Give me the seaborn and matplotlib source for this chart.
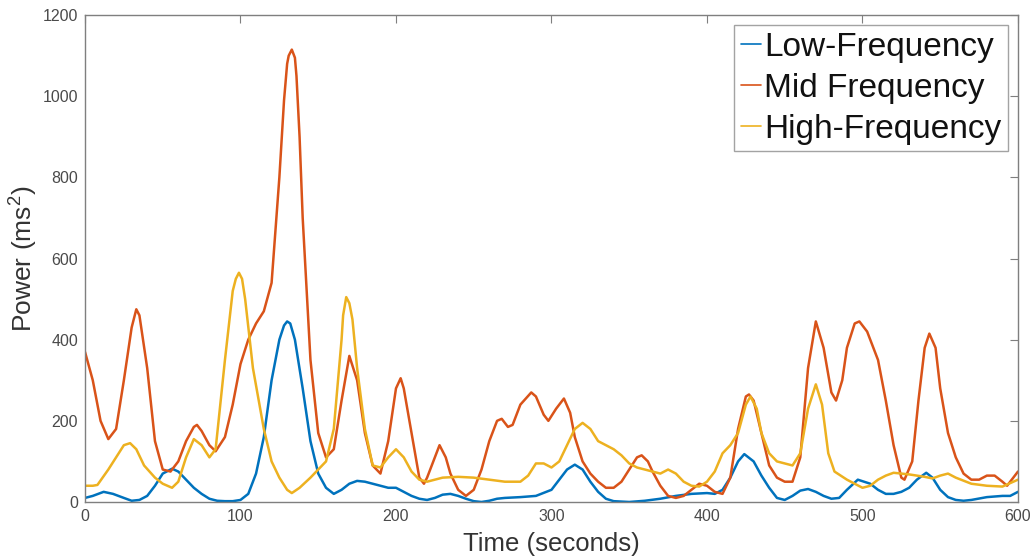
import numpy as np
import pandas as pd
import matplotlib
matplotlib.use("Agg")
import matplotlib.pyplot as plt
import seaborn as sns

# Low-frequency band power over time
low_t = [0, 5, 12, 18, 25, 30, 35, 40, 45, 50, 56, 60, 65, 70, 75, 80, 85, 90, 95, 100,
         105, 110, 115, 120, 125, 128, 130, 132, 135, 140, 145, 150, 155, 160, 165, 170, 175, 180,
         185, 190, 195, 200, 205, 210, 215, 220, 225, 230, 235, 240, 245, 250, 255, 260,
         265, 270, 280, 290, 300, 305, 310, 315, 320, 325, 330, 335, 340, 350, 360, 370,
         380, 390, 400, 405, 410, 415, 420, 424, 430, 435, 440, 445, 450, 455, 460, 465,
         470, 475, 480, 485, 490, 497, 505, 510, 515, 520, 525, 530, 535, 541, 545, 550,
         555, 560, 565, 570, 580, 590, 595, 600]
low_p = [10, 15, 25, 20, 10, 3, 5, 15, 40, 70, 82, 75, 55, 35, 20, 8, 3, 2, 2, 5,
         20, 70, 160, 300, 400, 435, 445, 440, 400, 280, 150, 70, 35, 20, 30, 45, 52, 50,
         45, 40, 35, 35, 25, 15, 8, 5, 10, 18, 20, 15, 8, 2, 0, 3,
         8, 10, 12, 15, 30, 55, 80, 92, 80, 50, 25, 8, 2, 0, 3, 8,
         15, 20, 22, 20, 30, 60, 100, 118, 100, 65, 35, 10, 5, 15, 28, 32,
         25, 15, 8, 10, 30, 55, 45, 30, 20, 20, 25, 35, 55, 72, 60, 30,
         12, 5, 3, 5, 12, 15, 15, 25]

# Mid-frequency band power over time
mid_t = [0, 5, 10, 15, 20, 25, 30, 33, 35, 40, 45, 50, 55, 60, 65, 70, 72, 75, 80, 84,
         90, 95, 100, 105, 110, 115, 120, 125, 128, 130, 131, 133, 135, 136, 138, 140, 145, 150, 155, 160,
         165, 170, 175, 180, 185, 190, 195, 200, 203, 205, 210, 215, 218, 220, 225, 228,
         232, 235, 240, 245, 250, 255, 260, 265, 268, 272, 275, 280, 287, 290, 295, 298,
         303, 308, 312, 315, 320, 325, 330, 335, 340, 345, 350, 355, 358, 362, 365, 370,
         375, 380, 385, 390, 395, 400, 405, 410, 415, 420, 425, 427, 430, 435, 440, 445,
         450, 455, 460, 465, 470, 475, 480, 483, 487, 490, 495, 498, 503, 510, 515, 520,
         525, 527, 532, 536, 540, 543, 547, 550, 555, 560, 565, 570, 575, 580, 585, 590,
         593, 597, 600]
mid_p = [370, 300, 200, 155, 180, 300, 430, 475, 460, 330, 150, 80, 75, 100, 150, 185, 190, 175, 140, 125,
         160, 240, 340, 400, 440, 470, 540, 800, 990, 1080, 1100, 1115, 1095, 1050, 900, 700, 350, 170, 110, 130,
         250, 360, 300, 170, 90, 70, 150, 280, 305, 280, 170, 60, 45, 60, 110, 140,
         110, 70, 30, 15, 30, 80, 150, 200, 205, 185, 190, 240, 270, 260, 215, 200,
         230, 255, 220, 160, 100, 70, 50, 35, 35, 50, 80, 110, 115, 100, 75, 40,
         15, 10, 15, 30, 45, 40, 25, 20, 60, 180, 260, 265, 250, 170, 90, 60,
         50, 50, 110, 330, 445, 380, 270, 250, 300, 380, 440, 445, 420, 350, 250, 140,
         60, 55, 100, 250, 380, 415, 380, 280, 170, 110, 70, 55, 55, 65, 65, 50,
         40, 60, 75]

# High-frequency band power over time
high_t = [0, 5, 8, 15, 20, 25, 29, 33, 38, 45, 50, 56, 60, 65, 70, 75, 80, 84, 90, 95,
          97, 99, 101, 103, 108, 115, 120, 125, 130, 133, 138, 145, 150, 155, 160, 165, 166, 168, 170, 172,
          175, 180, 185, 190, 195, 200, 205, 210, 215, 220, 225, 230, 240, 250, 260, 270,
          280, 285, 290, 295, 300, 305, 310, 315, 320, 325, 330, 335, 340, 345, 350, 355,
          360, 365, 370, 375, 380, 385, 390, 395, 400, 405, 410, 415, 420, 425, 428, 432,
          435, 440, 445, 450, 455, 460, 465, 470, 474, 478, 482, 490, 495, 500, 505, 510,
          515, 520, 525, 530, 535, 540, 545, 550, 555, 560, 570, 580, 590, 600]
high_p = [40, 40, 42, 80, 110, 140, 145, 130, 90, 60, 45, 35, 50, 110, 155, 140, 110, 130, 350, 520,
          550, 565, 550, 500, 330, 180, 100, 60, 30, 22, 35, 60, 80, 100, 180, 400, 460, 505, 490, 450,
          330, 180, 90, 85, 110, 130, 110, 75, 55, 50, 55, 60, 62, 60, 55, 50,
          50, 65, 95, 95, 85, 100, 140, 180, 195, 180, 150, 140, 130, 115, 95, 85,
          80, 75, 70, 80, 70, 50, 40, 38, 50, 75, 120, 140, 170, 240, 260, 230,
          170, 120, 100, 95, 90, 120, 230, 290, 240, 120, 75, 55, 45, 35, 40, 55,
          65, 72, 70, 68, 65, 62, 58, 65, 70, 60, 45, 40, 38, 55]

series_names = ["Low-Frequency", "Mid Frequency", "High-Frequency"]
series_colors = ["#0072BD", "#D95319", "#EDB120"]

df = pd.concat([
    pd.DataFrame({"Time": low_t, "Power": low_p, "Band": series_names[0]}),
    pd.DataFrame({"Time": mid_t, "Power": mid_p, "Band": series_names[1]}),
    pd.DataFrame({"Time": high_t, "Power": high_p, "Band": series_names[2]}),
], ignore_index=True)

sns.set_theme(style="white")
plt.rcParams["font.family"] = ["Liberation Sans", "DejaVu Sans"]
plt.rcParams["mathtext.fontset"] = "custom"
plt.rcParams["mathtext.rm"] = "Liberation Sans"
plt.rcParams["mathtext.it"] = "Liberation Sans"

fig = plt.figure(figsize=(10.34, 5.6), dpi=100)
ax = fig.add_axes([0.0822, 0.1036, 0.9023, 0.8694])

sns.lineplot(data=df, x="Time", y="Power", hue="Band", hue_order=series_names,
             palette=series_colors, linewidth=1.8, ax=ax, legend=False,
             estimator=None, sort=True)
for ln in ax.get_lines():
    ln.set_solid_joinstyle("round")

ax.set_xlim(0, 600)
ax.set_ylim(0, 1200)
ax.set_xticks(np.arange(0, 601, 100))
ax.set_yticks(np.arange(0, 1201, 200))

axis_gray = "#7f7f7f"
for sp in ax.spines.values():
    sp.set_visible(True)
    sp.set_color(axis_gray)
    sp.set_linewidth(1.0)
ax.tick_params(direction="in", length=6, width=0.8, color=axis_gray,
               top=True, right=True, labelsize=11.5, labelcolor="#4a4a4a", pad=5)

ax.set_xlabel("Time (seconds)", fontsize=18.5, color="#333333", labelpad=6)
ax.set_ylabel("Power (ms$^{2}$)", fontsize=19, color="#333333", labelpad=2)

handles = [plt.Line2D([0], [0], color=c, linewidth=1.2) for c in series_colors]
leg = ax.legend(handles, series_names, loc="upper right", fontsize=24,
                handlelength=0.6, handletextpad=0.1, labelspacing=0.3,
                borderpad=0.2, borderaxespad=0.3, frameon=True, fancybox=False)
leg.get_frame().set_edgecolor("#8c8c8c")
leg.get_frame().set_linewidth(1.0)
for txt in leg.get_texts():
    txt.set_color("#111111")

fig.savefig("out.png", dpi=100, facecolor="white")
